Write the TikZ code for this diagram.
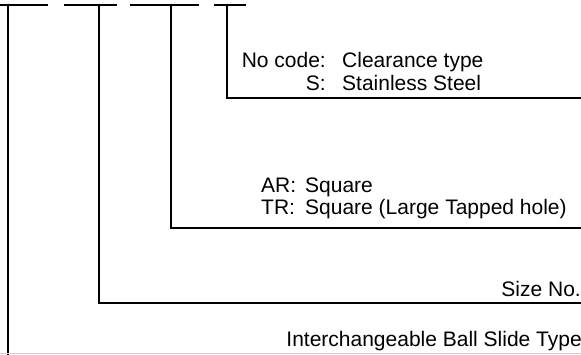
\documentclass[tikz,border=0pt]{standalone}
\usepackage{fontspec}
\setmainfont{Liberation Sans}
\begin{document}
\begin{tikzpicture}[x=1pt,y=-1pt,
  conn/.style={line width=2pt},
  dashline/.style={line width=2pt},
  lbl/.style={inner sep=0pt, font=\fontsize{21}{25}\selectfont}]
\clip (0,0) rectangle (581,354);
% code placeholder dashes
\draw[dashline] (0,4.5) -- (48,4.5);
\draw[dashline] (64,4.5) -- (117,4.5);
\draw[dashline] (130,4.5) -- (199,4.5);
\draw[dashline] (214,4.5) -- (246,4.5);
% connector start and end points
\coordinate (c1) at (8,3.5);
\coordinate (c2) at (99,3.5);
\coordinate (c3) at (171,3.5);
\coordinate (c4) at (227,3.5);
\coordinate (e1) at (582,355.5);
\coordinate (e2) at (582,303);
\coordinate (e3) at (582,228);
\coordinate (e4) at (582,98);
\draw[conn] (c1) |- (e1);
\draw[conn] (c2) |- (e2);
\draw[conn] (c3) |- (e3);
\draw[conn] (c4) |- (e4);
\draw[gray!35, line width=1pt] (0,353.5) -- (581,353.5);
% labels
\node[lbl, anchor=base east] (nc) at (326,67) {No code:};
\node[lbl, anchor=base west] (ct) at (342,67) {Clearance type};
\node[lbl, anchor=base east] (s) at (326,90) {S:};
\node[lbl, anchor=base west] (ss) at (342,90) {Stainless Steel};
\node[lbl, anchor=base west] (ar) at (261,192) {AR:};
\node[lbl, anchor=base west] (sq) at (305,192) {Square};
\node[lbl, anchor=base west] (tr) at (261,214) {TR:};
\node[lbl, anchor=base west] (sqt) at (305,214) {Square (Large Tapped hole)};
\node[lbl, anchor=base east] (size) at (581,296) {Size No.};
\node[lbl, anchor=base east] (ibs) at (582,346) {Interchangeable Ball Slide Type};
\end{tikzpicture}
\end{document}
